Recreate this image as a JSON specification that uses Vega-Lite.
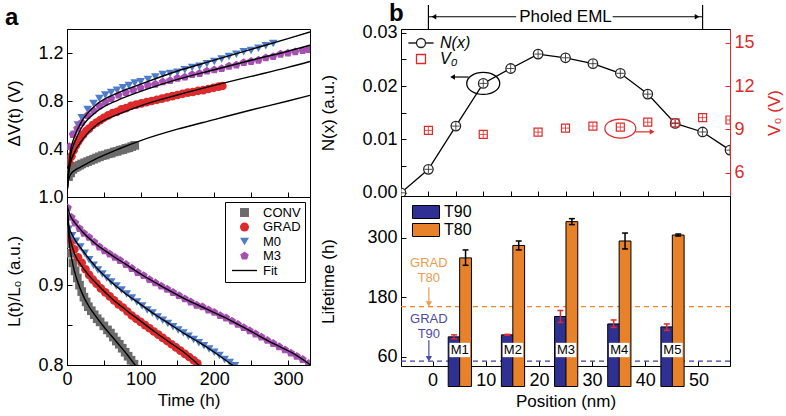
{
"$schema": "https://vega.github.io/schema/vega-lite/v6.json",
"background": "white",
"padding": {"left": 4, "top": 1, "right": 2, "bottom": 2},
"config": {
  "font": "Liberation Sans",
  "view": {"stroke": "black", "strokeWidth": 1},
  "axis": {"grid": false, "domainColor": "black", "tickColor": "black", "labelColor": "black", "titleColor": "black", "labelFontSize": 18, "titleFontSize": 17, "titleFontWeight": "normal", "tickSize": -5, "labelPadding": 9, "labelFlush": false, "labelOverlap": false, "tickWidth": 1, "domainWidth": 1},
  "axisX": {"labelPadding": 10, "titlePadding": 4},
  "legend": {"labelFont": "Liberation Sans", "labelColor": "black"},
  "title": {"font": "Liberation Sans", "color": "black"}
},
"datasets": {
  "dvpts": [
    {"s":"CONV","t":2,"v":0.17},{"s":"CONV","t":5,"v":0.2},{"s":"CONV","t":8,"v":0.23},{"s":"CONV","t":11,"v":0.245},{"s":"CONV","t":14,"v":0.255},{"s":"CONV","t":17,"v":0.265},{"s":"CONV","t":20,"v":0.275},{"s":"CONV","t":24,"v":0.285},{"s":"CONV","t":28,"v":0.295},{"s":"CONV","t":32,"v":0.305},{"s":"CONV","t":36,"v":0.315},{"s":"CONV","t":40,"v":0.325},{"s":"CONV","t":44,"v":0.335},{"s":"CONV","t":48,"v":0.345},{"s":"CONV","t":52,"v":0.35},{"s":"CONV","t":56,"v":0.36},{"s":"CONV","t":60,"v":0.365},{"s":"CONV","t":64,"v":0.375},{"s":"CONV","t":68,"v":0.38},{"s":"CONV","t":72,"v":0.39},{"s":"CONV","t":76,"v":0.395},{"s":"CONV","t":80,"v":0.405},{"s":"CONV","t":84,"v":0.41},{"s":"CONV","t":88,"v":0.42},{"s":"CONV","t":92,"v":0.43},
    {"s":"GRAD","t":3,"v":0.29},{"s":"GRAD","t":6,"v":0.34},{"s":"GRAD","t":9,"v":0.39},{"s":"GRAD","t":12,"v":0.43},{"s":"GRAD","t":15,"v":0.46},{"s":"GRAD","t":18,"v":0.49},{"s":"GRAD","t":22,"v":0.52},{"s":"GRAD","t":26,"v":0.55},{"s":"GRAD","t":30,"v":0.57},{"s":"GRAD","t":35,"v":0.6},{"s":"GRAD","t":40,"v":0.62},{"s":"GRAD","t":45,"v":0.64},{"s":"GRAD","t":50,"v":0.66},{"s":"GRAD","t":56,"v":0.68},{"s":"GRAD","t":62,"v":0.7},{"s":"GRAD","t":68,"v":0.71},{"s":"GRAD","t":74,"v":0.73},{"s":"GRAD","t":80,"v":0.74},{"s":"GRAD","t":87,"v":0.76},{"s":"GRAD","t":94,"v":0.77},{"s":"GRAD","t":101,"v":0.78},{"s":"GRAD","t":108,"v":0.79},{"s":"GRAD","t":115,"v":0.8},{"s":"GRAD","t":122,"v":0.81},{"s":"GRAD","t":129,"v":0.82},{"s":"GRAD","t":136,"v":0.83},{"s":"GRAD","t":143,"v":0.84},{"s":"GRAD","t":150,"v":0.85},{"s":"GRAD","t":157,"v":0.86},{"s":"GRAD","t":164,"v":0.87},{"s":"GRAD","t":171,"v":0.875},{"s":"GRAD","t":178,"v":0.885},{"s":"GRAD","t":185,"v":0.89},{"s":"GRAD","t":192,"v":0.9},{"s":"GRAD","t":199,"v":0.91},{"s":"GRAD","t":206,"v":0.92},{"s":"GRAD","t":211,"v":0.925},
    {"s":"M0","t":5,"v":0.4},{"s":"M0","t":10,"v":0.52},{"s":"M0","t":15,"v":0.6},{"s":"M0","t":20,"v":0.66},{"s":"M0","t":28,"v":0.73},{"s":"M0","t":36,"v":0.78},{"s":"M0","t":44,"v":0.82},{"s":"M0","t":52,"v":0.85},{"s":"M0","t":60,"v":0.87},{"s":"M0","t":68,"v":0.89},{"s":"M0","t":76,"v":0.91},{"s":"M0","t":84,"v":0.93},{"s":"M0","t":92,"v":0.95},{"s":"M0","t":100,"v":0.96},{"s":"M0","t":110,"v":0.98},{"s":"M0","t":120,"v":1.0},{"s":"M0","t":130,"v":1.02},{"s":"M0","t":140,"v":1.03},{"s":"M0","t":150,"v":1.04},{"s":"M0","t":160,"v":1.06},{"s":"M0","t":170,"v":1.08},{"s":"M0","t":180,"v":1.09},{"s":"M0","t":190,"v":1.11},{"s":"M0","t":200,"v":1.13},{"s":"M0","t":210,"v":1.15},{"s":"M0","t":220,"v":1.17},{"s":"M0","t":230,"v":1.19},{"s":"M0","t":240,"v":1.21},{"s":"M0","t":250,"v":1.22},{"s":"M0","t":260,"v":1.24},{"s":"M0","t":270,"v":1.26},{"s":"M0","t":280,"v":1.28},
    {"s":"M3","t":3,"v":0.42},{"s":"M3","t":8,"v":0.52},{"s":"M3","t":14,"v":0.57},{"s":"M3","t":20,"v":0.62},{"s":"M3","t":28,"v":0.68},{"s":"M3","t":36,"v":0.72},{"s":"M3","t":44,"v":0.76},{"s":"M3","t":52,"v":0.79},{"s":"M3","t":60,"v":0.82},{"s":"M3","t":70,"v":0.85},{"s":"M3","t":80,"v":0.87},{"s":"M3","t":90,"v":0.89},{"s":"M3","t":100,"v":0.91},{"s":"M3","t":110,"v":0.93},{"s":"M3","t":120,"v":0.94},{"s":"M3","t":130,"v":0.96},{"s":"M3","t":140,"v":0.97},{"s":"M3","t":150,"v":0.99},{"s":"M3","t":160,"v":1.0},{"s":"M3","t":170,"v":1.02},{"s":"M3","t":180,"v":1.03},{"s":"M3","t":190,"v":1.05},{"s":"M3","t":200,"v":1.06},{"s":"M3","t":210,"v":1.07},{"s":"M3","t":220,"v":1.09},{"s":"M3","t":230,"v":1.1},{"s":"M3","t":240,"v":1.12},{"s":"M3","t":250,"v":1.13},{"s":"M3","t":260,"v":1.14},{"s":"M3","t":270,"v":1.16},{"s":"M3","t":280,"v":1.17},{"s":"M3","t":290,"v":1.19},{"s":"M3","t":300,"v":1.2},{"s":"M3","t":310,"v":1.21},{"s":"M3","t":320,"v":1.22},{"s":"M3","t":328,"v":1.23}
  ],
  "dvfit": [
    {"s":"CONV","t":0.5,"v":0.07},{"s":"CONV","t":2,"v":0.14},{"s":"CONV","t":5,"v":0.19},{"s":"CONV","t":10,"v":0.22},{"s":"CONV","t":20,"v":0.255},{"s":"CONV","t":40,"v":0.32},{"s":"CONV","t":70,"v":0.4},{"s":"CONV","t":100,"v":0.47},{"s":"CONV","t":150,"v":0.565},{"s":"CONV","t":200,"v":0.645},{"s":"CONV","t":250,"v":0.725},{"s":"CONV","t":300,"v":0.8},{"s":"CONV","t":330,"v":0.847},
    {"s":"GRAD","t":0.5,"v":0.07},{"s":"GRAD","t":2,"v":0.18},{"s":"GRAD","t":5,"v":0.29},{"s":"GRAD","t":10,"v":0.37},{"s":"GRAD","t":20,"v":0.47},{"s":"GRAD","t":40,"v":0.6},{"s":"GRAD","t":70,"v":0.69},{"s":"GRAD","t":100,"v":0.76},{"s":"GRAD","t":150,"v":0.85},{"s":"GRAD","t":200,"v":0.93},{"s":"GRAD","t":250,"v":1.005},{"s":"GRAD","t":300,"v":1.08},{"s":"GRAD","t":330,"v":1.13},
    {"s":"M3","t":0.5,"v":0.07},{"s":"M3","t":2,"v":0.2},{"s":"M3","t":5,"v":0.35},{"s":"M3","t":10,"v":0.45},{"s":"M3","t":20,"v":0.58},{"s":"M3","t":40,"v":0.71},{"s":"M3","t":70,"v":0.81},{"s":"M3","t":100,"v":0.88},{"s":"M3","t":150,"v":0.98},{"s":"M3","t":200,"v":1.06},{"s":"M3","t":250,"v":1.14},{"s":"M3","t":300,"v":1.215},{"s":"M3","t":330,"v":1.265},
    {"s":"M0","t":0.5,"v":0.07},{"s":"M0","t":2,"v":0.22},{"s":"M0","t":5,"v":0.39},{"s":"M0","t":10,"v":0.5},{"s":"M0","t":20,"v":0.63},{"s":"M0","t":40,"v":0.77},{"s":"M0","t":70,"v":0.87},{"s":"M0","t":100,"v":0.94},{"s":"M0","t":150,"v":1.05},{"s":"M0","t":200,"v":1.14},{"s":"M0","t":250,"v":1.23},{"s":"M0","t":300,"v":1.32},{"s":"M0","t":330,"v":1.375}
  ],
  "ltpts": [
    {"s":"CONV","t":2,"v":0.952},{"s":"CONV","t":5,"v":0.94},{"s":"CONV","t":8,"v":0.928},{"s":"CONV","t":11,"v":0.918},{"s":"CONV","t":14,"v":0.909},{"s":"CONV","t":17,"v":0.9},{"s":"CONV","t":20,"v":0.892},{"s":"CONV","t":23,"v":0.885},{"s":"CONV","t":26,"v":0.879},{"s":"CONV","t":29,"v":0.873},{"s":"CONV","t":33,"v":0.868},{"s":"CONV","t":37,"v":0.863},{"s":"CONV","t":41,"v":0.858},{"s":"CONV","t":45,"v":0.854},{"s":"CONV","t":50,"v":0.849},{"s":"CONV","t":55,"v":0.844},{"s":"CONV","t":59,"v":0.84},{"s":"CONV","t":63,"v":0.835},{"s":"CONV","t":67,"v":0.83},{"s":"CONV","t":71,"v":0.826},{"s":"CONV","t":75,"v":0.821},{"s":"CONV","t":79,"v":0.816},{"s":"CONV","t":83,"v":0.811},{"s":"CONV","t":87,"v":0.806},{"s":"CONV","t":91,"v":0.801},
    {"s":"GRAD","t":2,"v":0.962},{"s":"GRAD","t":6,"v":0.955},{"s":"GRAD","t":10,"v":0.945},{"s":"GRAD","t":15,"v":0.935},{"s":"GRAD","t":20,"v":0.928},{"s":"GRAD","t":25,"v":0.92},{"s":"GRAD","t":30,"v":0.913},{"s":"GRAD","t":35,"v":0.907},{"s":"GRAD","t":40,"v":0.902},{"s":"GRAD","t":46,"v":0.896},{"s":"GRAD","t":52,"v":0.891},{"s":"GRAD","t":58,"v":0.886},{"s":"GRAD","t":64,"v":0.881},{"s":"GRAD","t":70,"v":0.876},{"s":"GRAD","t":76,"v":0.872},{"s":"GRAD","t":82,"v":0.867},{"s":"GRAD","t":88,"v":0.862},{"s":"GRAD","t":94,"v":0.858},{"s":"GRAD","t":100,"v":0.854},{"s":"GRAD","t":106,"v":0.85},{"s":"GRAD","t":112,"v":0.846},{"s":"GRAD","t":118,"v":0.842},{"s":"GRAD","t":124,"v":0.838},{"s":"GRAD","t":130,"v":0.834},{"s":"GRAD","t":136,"v":0.83},{"s":"GRAD","t":142,"v":0.826},{"s":"GRAD","t":148,"v":0.822},{"s":"GRAD","t":154,"v":0.818},{"s":"GRAD","t":160,"v":0.814},{"s":"GRAD","t":166,"v":0.81},{"s":"GRAD","t":172,"v":0.806},{"s":"GRAD","t":177,"v":0.802},
    {"s":"M0","t":2,"v":0.97},{"s":"M0","t":7,"v":0.962},{"s":"M0","t":12,"v":0.955},{"s":"M0","t":18,"v":0.948},{"s":"M0","t":24,"v":0.94},{"s":"M0","t":30,"v":0.932},{"s":"M0","t":36,"v":0.925},{"s":"M0","t":42,"v":0.919},{"s":"M0","t":48,"v":0.914},{"s":"M0","t":54,"v":0.909},{"s":"M0","t":60,"v":0.904},{"s":"M0","t":67,"v":0.899},{"s":"M0","t":74,"v":0.894},{"s":"M0","t":81,"v":0.889},{"s":"M0","t":88,"v":0.884},{"s":"M0","t":95,"v":0.879},{"s":"M0","t":102,"v":0.874},{"s":"M0","t":109,"v":0.869},{"s":"M0","t":116,"v":0.865},{"s":"M0","t":123,"v":0.86},{"s":"M0","t":130,"v":0.856},{"s":"M0","t":137,"v":0.852},{"s":"M0","t":144,"v":0.848},{"s":"M0","t":151,"v":0.844},{"s":"M0","t":158,"v":0.84},{"s":"M0","t":165,"v":0.836},{"s":"M0","t":172,"v":0.832},{"s":"M0","t":179,"v":0.828},{"s":"M0","t":186,"v":0.824},{"s":"M0","t":193,"v":0.82},{"s":"M0","t":200,"v":0.816},{"s":"M0","t":207,"v":0.812},{"s":"M0","t":214,"v":0.807},{"s":"M0","t":221,"v":0.803},{"s":"M0","t":228,"v":0.799},
    {"s":"M3","t":1,"v":0.997},{"s":"M3","t":6,"v":0.985},{"s":"M3","t":11,"v":0.978},{"s":"M3","t":17,"v":0.971},{"s":"M3","t":23,"v":0.965},{"s":"M3","t":30,"v":0.96},{"s":"M3","t":37,"v":0.954},{"s":"M3","t":44,"v":0.948},{"s":"M3","t":51,"v":0.943},{"s":"M3","t":58,"v":0.939},{"s":"M3","t":65,"v":0.935},{"s":"M3","t":72,"v":0.931},{"s":"M3","t":80,"v":0.926},{"s":"M3","t":88,"v":0.921},{"s":"M3","t":96,"v":0.916},{"s":"M3","t":104,"v":0.912},{"s":"M3","t":112,"v":0.907},{"s":"M3","t":120,"v":0.903},{"s":"M3","t":128,"v":0.899},{"s":"M3","t":136,"v":0.895},{"s":"M3","t":144,"v":0.891},{"s":"M3","t":152,"v":0.887},{"s":"M3","t":160,"v":0.883},{"s":"M3","t":168,"v":0.879},{"s":"M3","t":176,"v":0.875},{"s":"M3","t":184,"v":0.873},{"s":"M3","t":192,"v":0.869},{"s":"M3","t":200,"v":0.866},{"s":"M3","t":208,"v":0.862},{"s":"M3","t":216,"v":0.859},{"s":"M3","t":224,"v":0.855},{"s":"M3","t":232,"v":0.851},{"s":"M3","t":240,"v":0.847},{"s":"M3","t":248,"v":0.843},{"s":"M3","t":256,"v":0.839},{"s":"M3","t":264,"v":0.835},{"s":"M3","t":272,"v":0.831},{"s":"M3","t":280,"v":0.827},{"s":"M3","t":288,"v":0.823},{"s":"M3","t":296,"v":0.819},{"s":"M3","t":304,"v":0.815},{"s":"M3","t":312,"v":0.811},{"s":"M3","t":320,"v":0.807},{"s":"M3","t":328,"v":0.802}
  ],
  "ltfit": [
    {"s":"CONV","t":0,"v":1.0},{"s":"CONV","t":3,"v":0.955},{"s":"CONV","t":6,"v":0.935},{"s":"CONV","t":10,"v":0.918},{"s":"CONV","t":15,"v":0.903},{"s":"CONV","t":20,"v":0.891},{"s":"CONV","t":30,"v":0.873},{"s":"CONV","t":40,"v":0.86},{"s":"CONV","t":50,"v":0.848},{"s":"CONV","t":60,"v":0.837},{"s":"CONV","t":70,"v":0.826},{"s":"CONV","t":80,"v":0.815},{"s":"CONV","t":90,"v":0.803},{"s":"CONV","t":95,"v":0.797},
    {"s":"GRAD","t":0,"v":1.0},{"s":"GRAD","t":3,"v":0.965},{"s":"GRAD","t":6,"v":0.952},{"s":"GRAD","t":10,"v":0.94},{"s":"GRAD","t":20,"v":0.924},{"s":"GRAD","t":30,"v":0.912},{"s":"GRAD","t":40,"v":0.902},{"s":"GRAD","t":60,"v":0.884},{"s":"GRAD","t":80,"v":0.869},{"s":"GRAD","t":100,"v":0.855},{"s":"GRAD","t":120,"v":0.841},{"s":"GRAD","t":140,"v":0.828},{"s":"GRAD","t":160,"v":0.815},{"s":"GRAD","t":180,"v":0.799},
    {"s":"M0","t":0,"v":1.0},{"s":"M0","t":3,"v":0.972},{"s":"M0","t":6,"v":0.965},{"s":"M0","t":10,"v":0.958},{"s":"M0","t":20,"v":0.945},{"s":"M0","t":40,"v":0.922},{"s":"M0","t":60,"v":0.904},{"s":"M0","t":80,"v":0.889},{"s":"M0","t":100,"v":0.876},{"s":"M0","t":120,"v":0.863},{"s":"M0","t":140,"v":0.851},{"s":"M0","t":160,"v":0.839},{"s":"M0","t":180,"v":0.828},{"s":"M0","t":200,"v":0.816},{"s":"M0","t":226,"v":0.799},
    {"s":"M3","t":0,"v":1.0},{"s":"M3","t":5,"v":0.986},{"s":"M3","t":10,"v":0.979},{"s":"M3","t":20,"v":0.968},{"s":"M3","t":40,"v":0.951},{"s":"M3","t":60,"v":0.938},{"s":"M3","t":80,"v":0.926},{"s":"M3","t":100,"v":0.914},{"s":"M3","t":130,"v":0.898},{"s":"M3","t":160,"v":0.883},{"s":"M3","t":190,"v":0.87},{"s":"M3","t":220,"v":0.857},{"s":"M3","t":250,"v":0.842},{"s":"M3","t":280,"v":0.827},{"s":"M3","t":310,"v":0.813},{"s":"M3","t":331,"v":0.8}
  ],
  "nx": [
    {"x":-5,"y":0.0,"s":"N(x)"},{"x":0,"y":0.0044,"s":"N(x)"},{"x":5,"y":0.0125,"s":"N(x)"},{"x":10,"y":0.0205,"s":"N(x)"},{"x":15,"y":0.0233,"s":"N(x)"},{"x":20,"y":0.026,"s":"N(x)"},{"x":25,"y":0.0253,"s":"N(x)"},{"x":30,"y":0.0242,"s":"N(x)"},{"x":35,"y":0.0224,"s":"N(x)"},{"x":40,"y":0.0185,"s":"N(x)"},{"x":45,"y":0.013,"s":"N(x)"},{"x":50,"y":0.0114,"s":"N(x)"},{"x":55,"y":0.008,"s":"N(x)"}
  ],
  "v0": [
    {"x":0,"v":8.93,"s":"V₀"},{"x":10,"v":8.65,"s":"V₀"},{"x":20,"v":8.81,"s":"V₀"},{"x":25,"v":9.09,"s":"V₀"},{"x":30,"v":9.23,"s":"V₀"},{"x":35,"v":9.16,"s":"V₀"},{"x":40,"v":9.5,"s":"V₀"},{"x":45,"v":9.46,"s":"V₀"},{"x":50,"v":9.81,"s":"V₀"},{"x":55,"v":9.65,"s":"V₀"}
  ],
  "bars": [
    {"m":"M1","type":"T90","x":4.05,"v":100,"lo":96,"hi":104},{"m":"M2","type":"T90","x":14.05,"v":104,"lo":103,"hi":105},{"m":"M3","type":"T90","x":24.05,"v":141,"lo":129,"hi":153},{"m":"M4","type":"T90","x":34.05,"v":126,"lo":119,"hi":134},{"m":"M5","type":"T90","x":44.05,"v":120,"lo":113,"hi":126},
    {"m":"M1","type":"T80","x":6.2,"v":259,"lo":244,"hi":275},{"m":"M2","type":"T80","x":16.2,"v":284,"lo":275,"hi":293},{"m":"M3","type":"T80","x":26.2,"v":332,"lo":326,"hi":338},{"m":"M4","type":"T80","x":36.2,"v":293,"lo":277,"hi":309},{"m":"M5","type":"T80","x":46.2,"v":305,"lo":303,"hi":307}
  ]
},
"hconcat": [
  {
    "vconcat": [
      {
        "width": 243, "height": 168,
        "title": {"text": "a", "anchor": "start", "frame": "group", "dx": -62, "offset": -1, "fontSize": 24, "fontWeight": "bold"},
        "layer": [
          {"data": {"name": "dvpts"}, "mark": {"type": "point", "filled": true, "opacity": 1, "size": 75, "clip": true},
           "encoding": {
             "x": {"field": "t", "type": "quantitative", "scale": {"domain": [0, 330]}, "axis": {"values": [50,100,150,200,250,300], "labels": false, "title": null}},
             "y": {"field": "v", "type": "quantitative", "scale": {"domain": [0, 1.4]}, "axis": {"values": [0.4, 0.8, 1.2], "format": ".1f", "title": "ΔV(t) (V)", "titlePadding": 14}},
             "color": {"field": "s", "type": "nominal", "scale": {"domain": ["CONV","GRAD","M0","M3"], "range": ["#6B6B6B","#DD2A2A","#4F7CC9","#A650B3"]}, "legend": null},
             "shape": {"field": "s", "type": "nominal", "scale": {"domain": ["CONV","GRAD","M0","M3"], "range": ["square","circle","triangle-down","M0,-1L0.951,-0.309L0.588,0.809L-0.588,0.809L-0.951,-0.309Z"]}, "legend": null}
           }},
          {"data": {"name": "dvfit"}, "mark": {"type": "line", "color": "black", "strokeWidth": 1.4, "interpolate": "monotone", "clip": true},
           "encoding": {
             "x": {"field": "t", "type": "quantitative", "scale": {"domain": [0, 330]}},
             "y": {"field": "v", "type": "quantitative", "scale": {"domain": [0, 1.4]}},
             "detail": {"field": "s"}
           }}
        ]
      },
      {
        "width": 243, "height": 168,
        "layer": [
          {"data": {"name": "ltpts"}, "mark": {"type": "point", "filled": true, "opacity": 1, "size": 75, "clip": true},
           "encoding": {
             "x": {"field": "t", "type": "quantitative", "scale": {"domain": [0, 330]}, "axis": {"values": [0,50,100,150,200,250,300], "labelExpr": "datum.value % 100 == 0 ? datum.label : ''", "title": "Time (h)"}},
             "y": {"field": "v", "type": "quantitative", "scale": {"domain": [0.8, 1.0105]}, "axis": {"values": [0.8,0.85,0.9,1.0105], "labelExpr": "datum.value > 1 ? '1.0' : (round(datum.value*100) % 10 == 0 ? format(datum.value, '.1f') : '')", "title": "L(t)/L₀ (a.u.)", "titlePadding": 14}},
             "color": {"field": "s", "type": "nominal", "scale": {"domain": ["CONV","GRAD","M0","M3","Fit"], "range": ["#6B6B6B","#DD2A2A","#4F7CC9","#A650B3","black"]},
               "legend": {"title": null, "orient": "top-right", "offset": 5, "strokeColor": "black", "padding": 4, "labelFontSize": 13, "symbolSize": 80, "rowPadding": 0.5, "symbolOffset": 9, "labelOffset": 12}},
             "shape": {"field": "s", "type": "nominal", "scale": {"domain": ["CONV","GRAD","M0","M3","Fit"], "range": ["square","circle","triangle-down","M0,-1L0.951,-0.309L0.588,0.809L-0.588,0.809L-0.951,-0.309Z","M-2.8,-0.15L2.8,-0.15L2.8,0.15L-2.8,0.15Z"]},
               "legend": {"title": null, "orient": "top-right", "offset": 5, "strokeColor": "black", "padding": 4, "labelFontSize": 13, "symbolSize": 80, "rowPadding": 0.5, "symbolOffset": 9, "labelOffset": 12}}
           }},
          {"data": {"name": "ltfit"}, "mark": {"type": "line", "color": "black", "strokeWidth": 1.4, "interpolate": "monotone", "clip": true},
           "encoding": {
             "x": {"field": "t", "type": "quantitative", "scale": {"domain": [0, 330]}},
             "y": {"field": "v", "type": "quantitative", "scale": {"domain": [0.8, 1.0105]}},
             "detail": {"field": "s"}
           }}
        ]
      }
    ],
    "spacing": 0,
    "bounds": "flush",
    "resolve": {"scale": {"color": "independent", "shape": "independent"}, "legend": {"color": "independent", "shape": "independent"}}
  },
  {
    "vconcat": [
      {
        "width": 329, "height": 167,
        "title": {"text": "b", "anchor": "start", "frame": "group", "dx": -12, "offset": -22, "fontSize": 24, "fontWeight": "bold"},
        "encoding": {"x": {"field": "x", "type": "quantitative", "scale": {"domain": [-5, 55]}, "axis": {"values": [0,5,10,15,20,25,30,35,40,45,50], "labels": false, "title": null}}},
        "layer": [
          {
            "encoding": {"y": {"field": "y", "type": "quantitative", "scale": {"domain": [-0.0006, 0.0307]}, "axis": {"values": [0,0.005,0.01,0.015,0.02,0.025,0.03], "labelExpr": "round(datum.value*1000) % 10 == 0 ? format(datum.value, '.2f') : ''", "title": "N(x) (a.u.)", "titlePadding": 24}}},
            "layer": [
              {"data": {"name": "nx"}, "mark": {"type": "line", "color": "black", "strokeWidth": 1.3, "clip": true}},
              {"data": {"name": "nx"}, "mark": {"type": "point", "shape": "circle", "filled": false, "fill": "white", "fillOpacity": 1, "size": 90, "strokeWidth": 1.3, "stroke": "#222222", "opacity": 1, "clip": true}},
              {"data": {"name": "nx"}, "transform": [{"filter": "false"}], "mark": {"type": "point", "filled": false, "size": 81, "strokeWidth": 1.3, "opacity": 1},
               "encoding": {
                 "stroke": {"field": "s", "type": "nominal", "scale": {"domain": ["N(x)", "V₀"], "range": ["#222222", "#DD2A2A"]},
                   "legend": {"title": null, "orient": "top-left", "offset": 6, "padding": 0, "labelFontSize": 16, "labelFontStyle": "italic", "symbolSize": 81, "symbolStrokeWidth": 1.3, "rowPadding": 0, "symbolOffset": 6, "labelOffset": 11}},
                 "shape": {"field": "s", "type": "nominal", "scale": {"domain": ["N(x)", "V₀"], "range": ["M-2.8,0L-1,0M1,0L2.8,0M-1,0A1,1,0,0,1,1,0A1,1,0,0,1,-1,0Z", "square"]},
                   "legend": {"title": null, "orient": "top-left", "offset": 6, "padding": 0, "labelFontSize": 16, "labelFontStyle": "italic", "symbolSize": 81, "symbolStrokeWidth": 1.3, "rowPadding": 0, "symbolOffset": 6, "labelOffset": 11}}
               }},
              {"data": {"name": "nx"}, "mark": {"type": "point", "shape": "M-1,0L1,0M0,-1L0,1", "size": 60, "filled": false, "color": "#222222", "strokeWidth": 0.8, "opacity": 1, "clip": true}},
              {"data": {"values": [{"x": 10, "y": 0.0205}]}, "mark": {"type": "point", "shape": "M-1,0A1,0.667,0,0,1,1,0A1,0.667,0,0,1,-1,0Z", "size": 1089, "filled": false, "color": "black", "strokeWidth": 1.3, "opacity": 1}},
              {"data": {"values": [{"x": 4.6, "x2": 7.3, "y": 0.0217}]}, "mark": {"type": "rule", "color": "black", "strokeWidth": 1.2}, "encoding": {"x2": {"field": "x2"}}},
              {"data": {"values": [{"x": 4.4, "y": 0.0217}]}, "mark": {"type": "point", "shape": "triangle-left", "size": 30, "filled": true, "color": "black", "opacity": 1}},
              {"data": {"values": [{"x": 0, "x2": 16, "y": 0.033}, {"x": 33.6, "x2": 50, "y": 0.033}]}, "mark": {"type": "rule", "color": "black", "strokeWidth": 1.2, "clip": false}, "encoding": {"x2": {"field": "x2"}}},
              {"data": {"values": [{"x": 0, "y": 0.0307, "y2": 0.0352}, {"x": 50, "y": 0.0307, "y2": 0.0352}]}, "mark": {"type": "rule", "color": "black", "strokeWidth": 1.2, "clip": false}, "encoding": {"y2": {"field": "y2"}}},
              {"data": {"values": [{"x": 1.0, "y": 0.033}]}, "mark": {"type": "point", "shape": "triangle-left", "size": 30, "filled": true, "color": "black", "opacity": 1, "clip": false}},
              {"data": {"values": [{"x": 49.0, "y": 0.033}]}, "mark": {"type": "point", "shape": "triangle-right", "size": 30, "filled": true, "color": "black", "opacity": 1, "clip": false}},
              {"data": {"values": [{"x": 25, "y": 0.033, "t": "Pholed EML"}]}, "mark": {"type": "text", "fontSize": 17, "baseline": "middle", "align": "center", "color": "black", "clip": false}, "encoding": {"text": {"field": "t"}}}
            ]
          },
          {
            "encoding": {"y": {"field": "v", "type": "quantitative", "scale": {"domain": [4.39, 15.95]}, "axis": {"orient": "right", "values": [6, 9, 12, 15], "title": "V₀ (V)", "titleAngle": 270, "titlePadding": 29, "domainColor": "#DD2A2A", "tickColor": "#DD2A2A", "labelColor": "#DD2A2A", "titleColor": "#DD2A2A"}}},
            "layer": [
              {"data": {"name": "v0"}, "mark": {"type": "point", "shape": "square", "filled": false, "size": 64, "strokeWidth": 1.2, "stroke": "#DD2A2A", "opacity": 1, "clip": true}},
              {"data": {"name": "v0"}, "mark": {"type": "point", "shape": "M-1,0L1,0M0,-1L0,1", "size": 49, "filled": false, "color": "#DD2A2A", "strokeWidth": 0.8, "opacity": 1, "clip": true}},
              {"data": {"values": [{"x": 35, "v": 9.06}]}, "mark": {"type": "point", "shape": "M-1,0A1,0.613,0,0,1,1,0A1,0.613,0,0,1,-1,0Z", "size": 961, "filled": false, "color": "#DD2A2A", "strokeWidth": 1.2, "opacity": 1}},
              {"data": {"values": [{"x": 37.8, "x2": 40.6, "v": 8.83}]}, "mark": {"type": "rule", "color": "#DD2A2A", "strokeWidth": 1.2}, "encoding": {"x2": {"field": "x2"}}},
              {"data": {"values": [{"x": 40.8, "v": 8.83}]}, "mark": {"type": "point", "shape": "triangle-right", "size": 30, "filled": true, "color": "#DD2A2A", "opacity": 1}}
            ]
          }
        ],
        "resolve": {"scale": {"y": "independent"}, "axis": {"y": "independent"}}
      },
      {
        "width": 329, "height": 170,
        "layer": [
          {"data": {"values": [{"y": 161}]}, "mark": {"type": "rule", "color": "#E8862A", "strokeDash": [5, 4], "strokeWidth": 1.2},
           "encoding": {"y": {"field": "y", "type": "quantitative", "scale": {"domain": [41.3, 383.6], "zero": false}}}},
          {"data": {"values": [{"y": 51}]}, "mark": {"type": "rule", "color": "#3B3B9B", "strokeDash": [5, 4], "strokeWidth": 1.2},
           "encoding": {"y": {"field": "y", "type": "quantitative", "scale": {"domain": [41.3, 383.6], "zero": false}}}},
          {"data": {"name": "bars"}, "mark": {"type": "bar", "size": 11.8, "stroke": "black", "strokeWidth": 1},
           "encoding": {
             "x": {"field": "x", "type": "quantitative", "scale": {"domain": [-5, 55]}, "axis": {"values": [0,5,10,15,20,25,30,35,40,45,50], "labelExpr": "datum.value % 10 == 0 ? datum.label : ''", "title": "Position (nm)"}},
             "y": {"field": "v", "type": "quantitative", "scale": {"domain": [41.3, 383.6], "zero": false}, "axis": {"values": [60,90,120,150,180,210,240,270,300,330,360], "labelExpr": "datum.value % 60 == 0 ? datum.label : ''", "title": "Lifetime (h)", "titlePadding": 29}},
             "color": {"field": "type", "type": "nominal", "scale": {"domain": ["T90", "T80"], "range": ["#2E3192", "#E8822A"]},
               "legend": {"title": null, "orient": "top-left", "offset": 8, "padding": 0, "labelFontSize": 16, "symbolSize": 169, "symbolType": "M-2.08,-1L2.08,-1L2.08,1L-2.08,1Z", "symbolStrokeColor": "black", "symbolStrokeWidth": 1, "rowPadding": 0, "symbolOffset": 9, "labelOffset": 10}}
           }},
          {"data": {"name": "bars"}, "mark": {"type": "rule", "strokeWidth": 1.5},
           "encoding": {
             "x": {"field": "x", "type": "quantitative", "scale": {"domain": [-5, 55]}},
             "y": {"field": "lo", "type": "quantitative", "scale": {"domain": [41.3, 383.6], "zero": false}},
             "y2": {"field": "hi"},
             "color": {"condition": {"test": "datum.type === 'T90'", "value": "#E0282E"}, "value": "black"}
           }},
          {"data": {"name": "bars"}, "mark": {"type": "point", "shape": "M-1,0L1,0", "size": 36, "filled": false, "strokeWidth": 1.5, "opacity": 1},
           "encoding": {
             "x": {"field": "x", "type": "quantitative", "scale": {"domain": [-5, 55]}},
             "y": {"field": "lo", "type": "quantitative", "scale": {"domain": [41.3, 383.6], "zero": false}},
             "color": {"condition": {"test": "datum.type === 'T90'", "value": "#E0282E"}, "value": "black"}
           }},
          {"data": {"name": "bars"}, "mark": {"type": "point", "shape": "M-1,0L1,0", "size": 36, "filled": false, "strokeWidth": 1.5, "opacity": 1},
           "encoding": {
             "x": {"field": "x", "type": "quantitative", "scale": {"domain": [-5, 55]}},
             "y": {"field": "hi", "type": "quantitative", "scale": {"domain": [41.3, 383.6], "zero": false}},
             "color": {"condition": {"test": "datum.type === 'T90'", "value": "#E0282E"}, "value": "black"}
           }},
          {"data": {"values": [{"x": 5.1, "y": 73.5, "m": "M1"}, {"x": 15.1, "y": 73.5, "m": "M2"}, {"x": 25.1, "y": 73.5, "m": "M3"}, {"x": 35.1, "y": 73.5, "m": "M4"}, {"x": 45.1, "y": 73.5, "m": "M5"}]},
           "encoding": {
             "x": {"field": "x", "type": "quantitative", "scale": {"domain": [-5, 55]}},
             "y": {"field": "y", "type": "quantitative", "scale": {"domain": [41.3, 383.6], "zero": false}}
           },
           "layer": [
             {"mark": {"type": "point", "shape": "M-1,-0.7L1,-0.7L1,0.7L-1,0.7Z", "size": 420, "filled": true, "color": "white", "opacity": 1}},
             {"mark": {"type": "text", "fontSize": 13, "baseline": "middle", "align": "center", "color": "black"}, "encoding": {"text": {"field": "m"}}}
           ]},
          {"data": {"values": [{"x": -0.7, "y": 249, "t": "GRAD", "c": "o"}, {"x": -0.7, "y": 218, "t": "T80", "c": "o"}, {"x": -0.7, "y": 136.5, "t": "GRAD", "c": "b"}, {"x": -0.7, "y": 105, "t": "T90", "c": "b"}]},
           "mark": {"type": "text", "fontSize": 13, "baseline": "middle", "align": "center"},
           "encoding": {
             "x": {"field": "x", "type": "quantitative", "scale": {"domain": [-5, 55]}},
             "y": {"field": "y", "type": "quantitative", "scale": {"domain": [41.3, 383.6], "zero": false}},
             "text": {"field": "t"},
             "color": {"condition": {"test": "datum.c === 'o'", "value": "#EE9A4D"}, "value": "#4B4BA6"}
           }},
          {"data": {"values": [{"x": -0.7, "y": 200, "y2": 168, "c": "o"}, {"x": -0.7, "y": 93, "y2": 59, "c": "b"}]},
           "mark": {"type": "rule", "strokeWidth": 1.2},
           "encoding": {
             "x": {"field": "x", "type": "quantitative", "scale": {"domain": [-5, 55]}},
             "y": {"field": "y", "type": "quantitative", "scale": {"domain": [41.3, 383.6], "zero": false}},
             "y2": {"field": "y2"},
             "color": {"condition": {"test": "datum.c === 'o'", "value": "#EE9A4D"}, "value": "#4B4BA6"}
           }},
          {"data": {"values": [{"x": -0.7, "y": 166, "c": "o"}, {"x": -0.7, "y": 56, "c": "b"}]},
           "mark": {"type": "point", "shape": "triangle-down", "size": 40, "filled": true, "opacity": 1},
           "encoding": {
             "x": {"field": "x", "type": "quantitative", "scale": {"domain": [-5, 55]}},
             "y": {"field": "y", "type": "quantitative", "scale": {"domain": [41.3, 383.6], "zero": false}},
             "color": {"condition": {"test": "datum.c === 'o'", "value": "#EE9A4D"}, "value": "#4B4BA6"}
           }}
        ]
      }
    ],
    "spacing": 0,
    "bounds": "flush",
    "resolve": {"scale": {"color": "independent", "shape": "independent", "stroke": "independent"}, "legend": {"color": "independent", "shape": "independent", "stroke": "independent"}}
  }
],
"spacing": 8,
"resolve": {"scale": {"color": "independent", "shape": "independent", "stroke": "independent"}, "legend": {"color": "independent", "shape": "independent", "stroke": "independent"}}
}
